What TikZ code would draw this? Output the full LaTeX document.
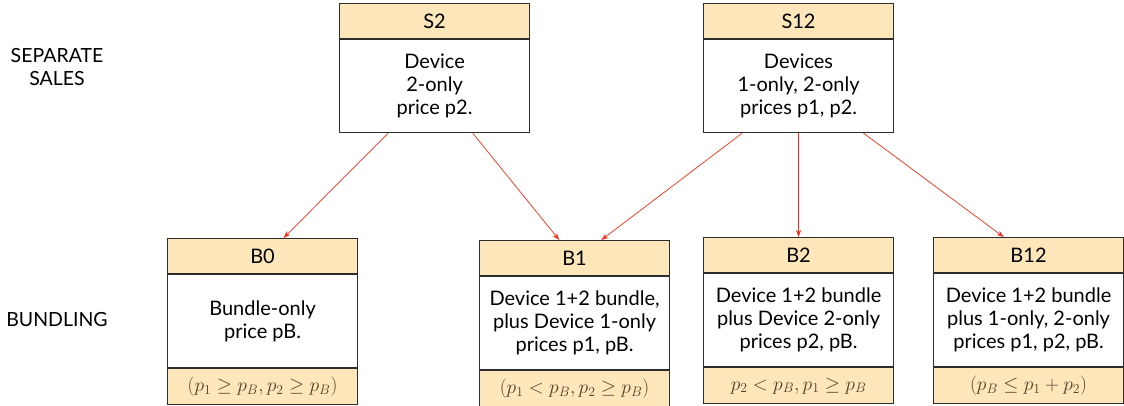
\RequirePackage{fix-cm}
\documentclass[tikz,border=0pt]{standalone}
\usepackage{fontspec}
\setmainfont{Lato}
\usetikzlibrary{calc,arrows.meta}
\definecolor{hdrfill}{RGB}{253,230,185}
\definecolor{boxline}{RGB}{45,45,45}
\definecolor{arrred}{RGB}{245,45,20}
\definecolor{mathcol}{RGB}{80,64,42}
\tikzset{
  hdr/.style={draw=boxline, line width=1.1pt, fill=hdrfill, minimum width=190pt, minimum height=35pt, inner sep=0pt, font=\fontsize{20}{24}\selectfont, anchor=north west},
  bodyb/.style={draw=boxline, line width=1.1pt, fill=white, minimum width=190pt, minimum height=93pt, inner sep=0pt, align=center, font=\fontsize{20}{23}\selectfont, anchor=north},
  foot/.style={draw=boxline, line width=1.1pt, fill=hdrfill, minimum width=190pt, minimum height=36pt, inner sep=0pt, text=mathcol, font=\fontsize{19.5}{21}\selectfont, anchor=north},
  sidelabel/.style={align=center, font=\fontsize{19.5}{23}\selectfont, inner sep=0pt},
  conn/.style={draw=arrred, line width=0.7pt, -{Stealth[length=7pt,width=5pt]}}
}
\begin{document}
\begin{tikzpicture}[x=1pt,y=-1pt]
\useasboundingbox (0,0) rectangle (1124,406);
% side labels
\node[sidelabel] (lsep) at (57,67) {SEPARATE\\SALES};
\node[sidelabel] (lbun) at (57,320) {BUNDLING};
% top row
\node[hdr] (S2h) at (339,3) {S2};
\node[bodyb] (S2b) at (S2h.south) {Device\\2-only\\price p2.};
\node[hdr] (S12h) at (703,3) {S12};
\node[bodyb] (S12b) at (S12h.south) {Devices\\1-only, 2-only\\prices p1, p2.};
% bottom row
\node[hdr] (B0h) at (167,238) {B0};
\node[bodyb] (B0b) at (B0h.south) {Bundle-only\\price pB.};
\node[foot] (B0f) at (B0b.south) {$(p_1 \geq p_B, p_2 \geq p_B)$};
\node[hdr] (B1h) at (479,240) {B1};
\node[bodyb] (B1b) at (B1h.south) {Device 1+2 bundle,\\plus Device 1-only\\prices p1, pB.};
\node[foot] (B1f) at (B1b.south) {$(p_1 < p_B, p_2 \geq p_B)$};
\node[hdr] (B2h) at (703,237) {B2};
\node[bodyb] (B2b) at (B2h.south) {Device 1+2 bundle\\plus Device 2-only\\prices p2, pB.};
\node[foot] (B2f) at (B2b.south) {$p_2 < p_B, p_1 \geq p_B$};
\node[hdr] (B12h) at (933,237) {B12};
\node[bodyb] (B12b) at (B12h.south) {Device 1+2 bundle\\plus 1-only, 2-only\\prices p1, p2, pB.};
\node[foot] (B12f) at (B12b.south) {$(p_B \leq p_1 + p_2)$};
% connectors
\draw[conn] ($(S2b.south west)!0.257!(S2b.south east)$) -- ($(B0h.north west)!0.61!(B0h.north east)$);
\draw[conn] ($(S2b.south west)!0.70!(S2b.south east)$) -- ($(B1h.north west)!0.42!(B1h.north east)$);
\draw[conn] ($(S12b.south west)!0.205!(S12b.south east)$) -- ($(B1h.north west)!0.64!(B1h.north east)$);
\draw[conn] (S12b.south) -- (B2h.north);
\draw[conn] ($(S12b.south west)!0.84!(S12b.south east)$) -- ($(B12h.north west)!0.37!(B12h.north east)$);
\end{tikzpicture}
\end{document}
